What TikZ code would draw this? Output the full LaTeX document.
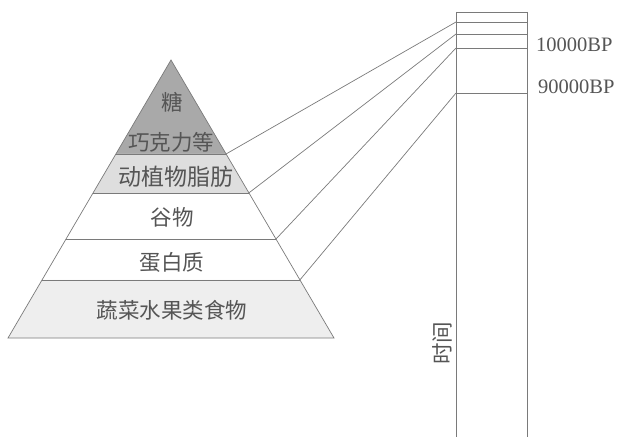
\documentclass[tikz,border=0pt]{standalone}
\usepackage{fontspec}
\setmainfont{Liberation Serif}
\newfontfamily\cjk{Noto Sans CJK SC}
\usetikzlibrary{calc}
\definecolor{ln}{HTML}{7A7A7A}
\definecolor{tx}{HTML}{555555}
\definecolor{bandA}{HTML}{A9A9A9}
\definecolor{bandB}{HTML}{DEDEDE}
\definecolor{bandE}{HTML}{EEEEEE}
\tikzset{
  rule/.style={draw=ln, line width=0.7pt},
  cn/.style={font=\cjk\fontsize{21.5}{23}\selectfont, text=tx, inner sep=0pt},
  bp/.style={font=\fontsize{20.5}{22}\selectfont, text=tx, inner sep=0pt, anchor=west}
}
\begin{document}
\begin{tikzpicture}[x=1pt,y=-1pt]
\useasboundingbox (0,0) rectangle (621,438);
\coordinate (A) at (171,60);
\coordinate (BL) at (8,338);
\coordinate (BR) at (334,338);
\coordinate (L1) at ($(A)!0.338!(BL)$); \coordinate (R1) at ($(A)!0.338!(BR)$);
\coordinate (L2) at ($(A)!0.478!(BL)$); \coordinate (R2) at ($(A)!0.478!(BR)$);
\coordinate (L3) at ($(A)!0.644!(BL)$); \coordinate (R3) at ($(A)!0.644!(BR)$);
\coordinate (L4) at ($(A)!0.791!(BL)$); \coordinate (R4) at ($(A)!0.791!(BR)$);
% bands
\fill[bandA] (A) -- (R1) -- (L1) -- cycle;
\fill[bandB] (L1) -- (R1) -- (R2) -- (L2) -- cycle;
\fill[bandE] (L4) -- (R4) -- (BR) -- (BL) -- cycle;
\draw[rule] (A) -- (BR) -- (BL) -- cycle;
\draw[rule] (L1) -- (R1);
\draw[rule] (L2) -- (R2);
\draw[rule] (L3) -- (R3);
\draw[rule] (L4) -- (R4);
% labels in pyramid
\node[cn] (t0) at (172,102) {糖};
\node[cn] (t1) at (171,142) {巧克力等};
\node[cn, font=\cjk\fontsize{23}{24}\selectfont] (t2) at (176,177) {动植物脂肪};
\node[cn] (t3) at (172,217) {谷物};
\node[cn] (t4) at (172,262) {蛋白质};
\node[cn] (t5) at (172,310) {蔬菜水果类食物};
% time column
\draw[rule] (456,12) -- (456,437);
\draw[rule] (527,12) -- (527,437);
\draw[rule] (456,12) -- (527,12);
\coordinate (C1) at (456,22); \coordinate (D1) at (527,22);
\coordinate (C2) at (456,34); \coordinate (D2) at (527,34);
\coordinate (C3) at (456,48); \coordinate (D3) at (527,48);
\coordinate (C4) at (456,93); \coordinate (D4) at (527,93);
\draw[rule] (C1) -- (D1);
\draw[rule] (C2) -- (D2);
\draw[rule] (C3) -- (D3);
\draw[rule] (C4) -- (D4);
% connectors
\draw[rule] (R1) -- (C1);
\draw[rule] (R2) -- (C2);
\draw[rule] (R3) -- (C3);
\draw[rule] (R4) -- (C4);
% BP labels
\node[bp] (b1) at (536,45) {10000BP};
\node[bp] (b2) at (538,87) {90000BP};
% time label
\node[cn, rotate=90] (tm) at (442,343) {时间};
\end{tikzpicture}
\end{document}
